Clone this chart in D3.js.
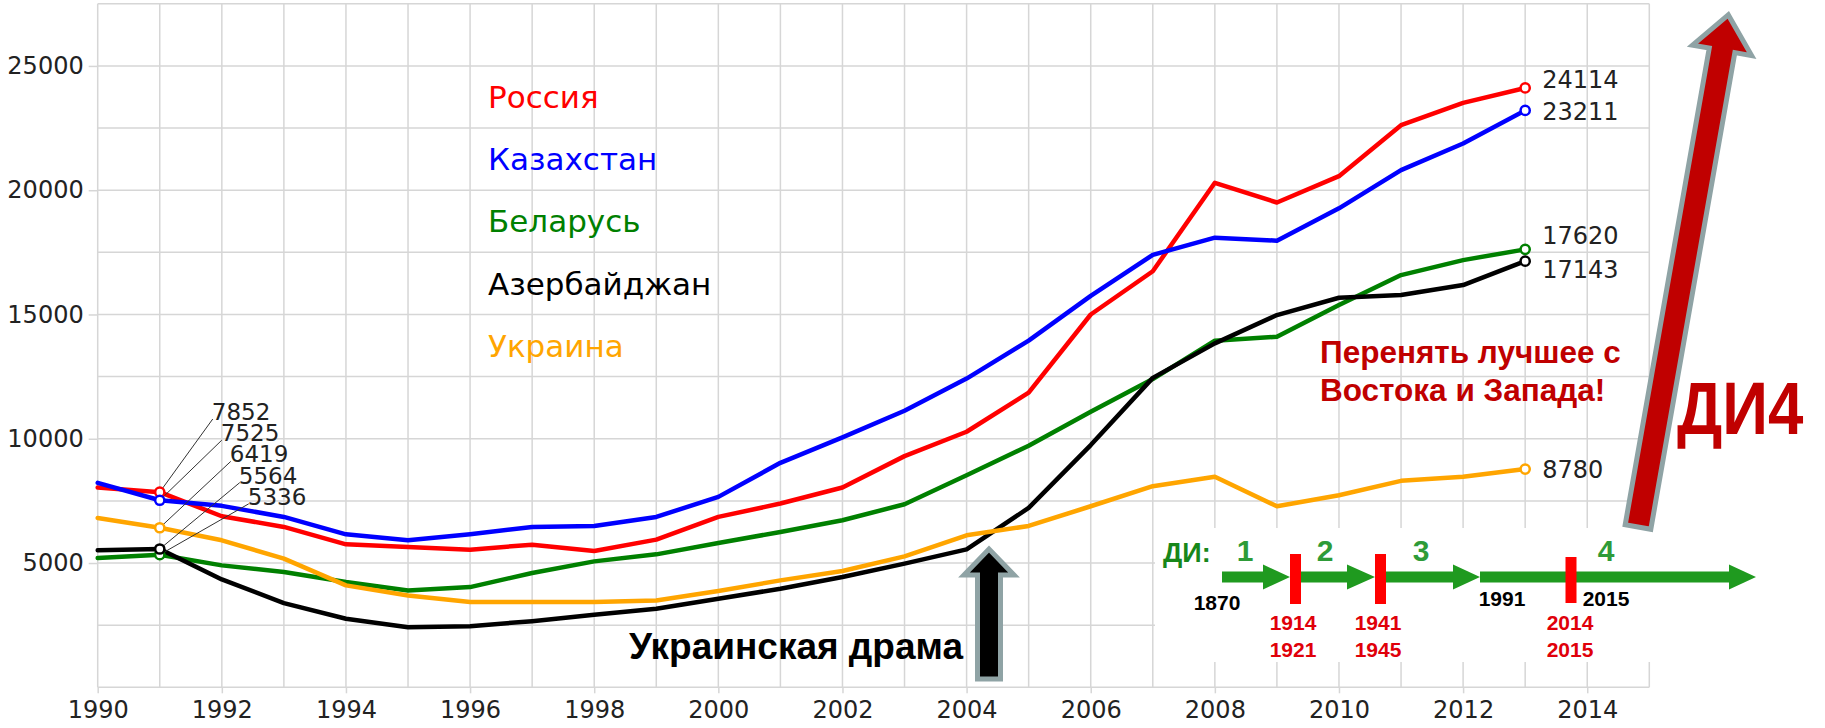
<!DOCTYPE html>
<html>
<head>
<meta charset="utf-8">
<script src="https://cdn.jsdelivr.net/npm/d3@7"></script>
<style>
body { margin: 0; background: #fff; }
svg { display: block; }
</style>
</head>
<body>
<svg id="chart" width="1825" height="728"></svg>
<script>
// years and values
var YEARS = d3.range(1990, 2014);
var RUSSIA = [8038, 7852, 6882, 6452, 5753, 5645, 5538, 5739, 5484, 5941, 6855, 7393, 8038, 9301, 10282, 11855, 15000, 16740, 20297, 19506, 20565, 22615, 23513, 24114];
var KAZAKHSTAN = [8226, 7525, 7300, 6855, 6156, 5914, 6156, 6450, 6490, 6855, 7661, 9032, 10054, 11129, 12420, 13950, 15750, 17400, 18090, 17970, 19270, 20806, 21880, 23211];
var BELARUS = [5202, 5336, 4906, 4637, 4234, 3898, 4032, 4597, 5067, 5349, 5807, 6250, 6720, 7366, 8535, 9718, 11089, 12400, 13945, 14106, 15379, 16585, 17188, 17620];
var AZERBAIJAN = [5511, 5564, 4341, 3387, 2756, 2420, 2460, 2662, 2917, 3159, 3562, 3966, 4436, 4974, 5551, 7218, 9745, 12450, 13838, 14977, 15674, 15781, 16183, 17143];
var UKRAINE = [6815, 6419, 5914, 5175, 4100, 3697, 3428, 3428, 3428, 3495, 3871, 4302, 4678, 5269, 6116, 6492, 7285, 8092, 8468, 7285, 7729, 8306, 8468, 8780];

var SERIES_NAMES = ["Россия", "Казахстан", "Беларусь", "Азербайджан", "Украина"];
var Y_TICKS = [5000, 10000, 15000, 20000, 25000];
var X_TICKS = d3.range(1990, 2015, 2);

// timeline annotation texts
var DI_PERIODS = ["1", "2", "3", "4"];
var DI_DATES = ["1870", "1991", "2015"];
var DI_WARS = [["1914", "1921"], ["1941", "1945"], ["2014", "2015"]];

var COLORS = {"Россия": "#ff0000", "Казахстан": "#0000ff", "Беларусь": "#008000", "Азербайджан": "#000000", "Украина": "#ffa500"};

var series = [
    {name: "Россия", values: RUSSIA},
    {name: "Казахстан", values: KAZAKHSTAN},
    {name: "Беларусь", values: BELARUS},
    {name: "Азербайджан", values: AZERBAIJAN},
    {name: "Украина", values: UKRAINE}
];

const svg = d3.select("#chart");
const x = d3.scaleLinear().domain([1990, 2015]).range([97.7, 1649.3]);
const y = d3.scaleLinear().domain([0, 27500]).range([687.3, 3.8]);
const gridColor = "#d6d6d6";
const axisFont = "'DejaVu Sans', Verdana, sans-serif";
const boldFont = "'Liberation Sans', Arial, sans-serif";

// grid
const grid = svg.append("g").attr("stroke", gridColor).attr("stroke-width", 1.5);
grid.selectAll("line.v")
    .data(d3.range(1990, 2016))
    .join("line")
    .attr("class", "v")
    .attr("x1", d => x(d)).attr("x2", d => x(d))
    .attr("y1", y(27500)).attr("y2", y(0));
grid.selectAll("line.h")
    .data(d3.range(0, 27501, 2500))
    .join("line")
    .attr("class", "h")
    .attr("x1", x(1990)).attr("x2", x(2015))
    .attr("y1", d => y(d)).attr("y2", d => y(d));

// axes
const xAxis = svg.append("g")
    .attr("transform", `translate(0,${y(0)})`)
    .call(d3.axisBottom(x).tickValues(X_TICKS).tickFormat(d3.format("d")).tickSize(6).tickPadding(8));
const yAxis = svg.append("g")
    .attr("transform", `translate(${x(1990)},0)`)
    .call(d3.axisLeft(y).tickValues(Y_TICKS).tickFormat(d3.format("d")).tickSize(9).tickPadding(5));
[xAxis, yAxis].forEach(g => {
    g.select(".domain").remove();
    g.selectAll(".tick line").attr("stroke", gridColor).attr("stroke-width", 1.5);
    g.selectAll(".tick text").attr("fill", "#222").style("font-family", axisFont).style("font-size", "24px");
});

// lines
const line = d3.line().x((d, i) => x(YEARS[i])).y(d => y(d));
svg.append("g")
    .selectAll("path")
    .data(series)
    .join("path")
    .attr("fill", "none")
    .attr("stroke", d => COLORS[d.name])
    .attr("stroke-width", 4.5)
    .attr("stroke-linejoin", "round")
    .attr("stroke-linecap", "round")
    .attr("d", d => line(d.values));

// start labels (1991) with leader lines
const startIdx = YEARS.indexOf(1991);
const startSorted = series.slice().sort((a, b) => b.values[startIdx] - a.values[startIdx]);
const startLbl = svg.append("g");
startSorted.forEach((s, i) => {
    const px = x(1991), py = y(s.values[startIdx]);
    const lx = px + 52 + 9 * i, ly = 420 + 21.2 * i;
    startLbl.append("line")
        .attr("x1", px).attr("y1", py).attr("x2", lx + 1).attr("y2", ly - 1)
        .attr("stroke", "#333").attr("stroke-width", 1);
    startLbl.append("text")
        .attr("x", lx).attr("y", ly)
        .attr("fill", "#222")
        .style("font-family", axisFont).style("font-size", "23px")
        .text(s.values[startIdx]);
});

// end labels (2013)
const endIdx = YEARS.length - 1;
const endShift = {"Россия": 0, "Казахстан": 9.5, "Беларусь": -5, "Азербайджан": 17, "Украина": 8.5};
series.forEach(s => {
    svg.append("text")
        .attr("x", x(2013) + 17).attr("y", y(s.values[endIdx]) + endShift[s.name])
        .attr("fill", "#222")
        .style("font-family", axisFont).style("font-size", "24px")
        .text(s.values[endIdx]);
});

// markers
const markers = svg.append("g");
series.forEach(s => {
    [startIdx, endIdx].forEach(i => {
        markers.append("circle")
            .attr("cx", x(YEARS[i])).attr("cy", y(s.values[i])).attr("r", 4.6)
            .attr("fill", "#fff").attr("stroke", COLORS[s.name]).attr("stroke-width", 2.5);
    });
});

// legend
svg.append("g")
    .selectAll("text")
    .data(SERIES_NAMES)
    .join("text")
    .attr("x", 488)
    .attr("y", (d, i) => 108 + 62.2 * i)
    .attr("fill", d => COLORS[d])
    .style("font-family", axisFont).style("font-size", "31px")
    .text(d => d);

// white box for the timeline
svg.append("rect").attr("x", 1155).attr("y", 528).attr("width", 610).attr("height", 134).attr("fill", "#fff");

// big red arrow
(function() {
    const bx = 1638, by = 527, tx = 1729, ty = 11;
    const len = Math.hypot(tx - bx, ty - by);
    const ang = Math.atan2(ty - by, tx - bx) * 180 / Math.PI;
    const L = len - 4;
    const pts = [[0, -13], [L - 36, -13], [L - 36, -30], [L, 0], [L - 36, 30], [L - 36, 13], [0, 13]];
    svg.append("polygon")
        .attr("points", pts.map(p => p.join(",")).join(" "))
        .attr("transform", `translate(${bx},${by}) rotate(${ang})`)
        .attr("fill", "#c00000").attr("stroke", "#8fa3a5").attr("stroke-width", 5);
})();

// black arrow
(function() {
    const cx = 989, tail = 679, tip = 549, head = 575;
    const pts = [[cx - 11.5, tail], [cx - 11.5, head], [cx - 25, head], [cx, tip], [cx + 25, head], [cx + 11.5, head], [cx + 11.5, tail]];
    svg.append("polygon")
        .attr("points", pts.map(p => p.join(",")).join(" "))
        .attr("fill", "#000").attr("stroke", "#8fa3a5").attr("stroke-width", 5);
})();

// annotations
svg.append("text").attr("x", 963).attr("y", 659).attr("text-anchor", "end")
    .attr("fill", "#000").style("font-family", boldFont).style("font-weight", "bold").style("font-size", "37px")
    .text("Украинская драма");
svg.append("text").attr("x", 1320).attr("y", 363)
    .attr("fill", "#c00000").style("font-family", boldFont).style("font-weight", "bold").style("font-size", "31.5px")
    .text("Перенять лучшее с");
svg.append("text").attr("x", 1320).attr("y", 401)
    .attr("fill", "#c00000").style("font-family", boldFont).style("font-weight", "bold").style("font-size", "31.5px")
    .text("Востока и Запада!");
svg.append("text")
    .attr("transform", "translate(1677,434) scale(0.86,1)")
    .attr("fill", "#c00000").style("font-family", boldFont).style("font-weight", "bold").style("font-size", "74px")
    .text("ДИ4");

// timeline
const tl = svg.append("g").style("font-family", boldFont).style("font-weight", "bold");
const green = "#1f9a1f";
const arrows = [[1222, 1263, 1290], [1300, 1347, 1375], [1385, 1453, 1480], [1480, 1729, 1756]];
arrows.forEach(a => {
    tl.append("polygon")
        .attr("points", [[a[0], 571.5], [a[1], 571.5], [a[1], 564.5], [a[2], 577], [a[1], 589.5], [a[1], 582.5], [a[0], 582.5]].map(p => p.join(",")).join(" "))
        .attr("fill", green);
});
[[1290, 554, 50], [1375, 554, 50], [1565.5, 557, 46]].forEach(b => {
    tl.append("rect").attr("x", b[0]).attr("y", b[1]).attr("width", 11).attr("height", b[2]).attr("fill", "#ff0000");
});
tl.append("text").attr("x", 1163).attr("y", 561.5).attr("fill", "#17871a").style("font-size", "27px").text("ДИ:");
const periodX = [1245, 1325, 1421, 1606];
DI_PERIODS.forEach((p, i) => {
    tl.append("text").attr("x", periodX[i]).attr("y", 561).attr("text-anchor", "middle")
        .attr("fill", "#2e9b38").style("font-size", "30px").text(p);
});
const dateX = [[1217, 610], [1502, 606], [1606, 606]];
DI_DATES.forEach((d, i) => {
    tl.append("text").attr("x", dateX[i][0]).attr("y", dateX[i][1]).attr("text-anchor", "middle")
        .attr("fill", "#000").style("font-size", "21px").text(d);
});
const warX = [1293, 1378, 1570];
DI_WARS.forEach((w, i) => {
    w.forEach((d, j) => {
        tl.append("text").attr("x", warX[i]).attr("y", 629.5 + 27.5 * j).attr("text-anchor", "middle")
            .attr("fill", "#e0000a").style("font-size", "21px").text(d);
    });
});
</script>
</body>
</html>
